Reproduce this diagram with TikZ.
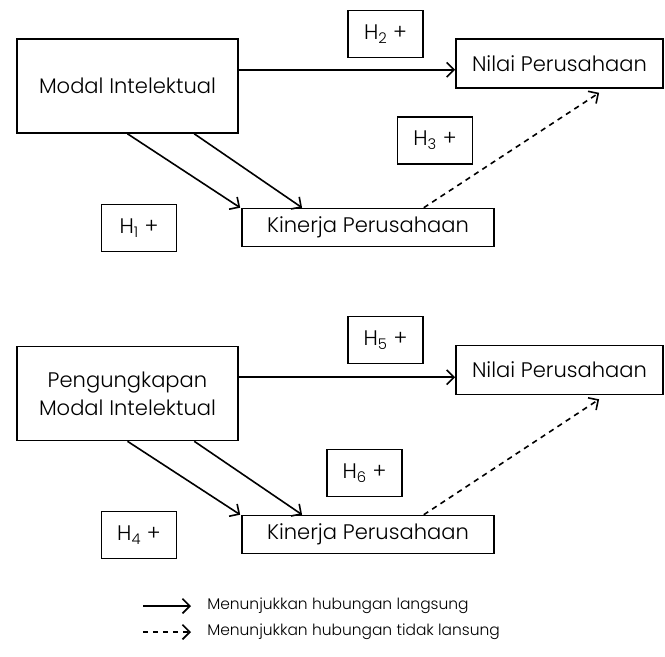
\documentclass[tikz,border=0pt]{standalone}
\usepackage{fontspec}
\setmainfont{Poppins Light}
\usetikzlibrary{arrows.meta}
\usetikzlibrary{calc}
\usetikzlibrary{positioning}

\begin{document}
\begin{tikzpicture}[x=0.75pt,y=-0.75pt]
	\useasboundingbox (0,0) rectangle (665,657);
	\begin{scope}[every node/.style={draw, line width=1.2pt, inner sep=0pt, align=center,
	              font=\fontsize{15.8}{21}\selectfont}]
		% blok atas
		\node[minimum width=165.75pt, minimum height=70.5pt] (m1) at (127.5,86) {Modal Intelektual};
		\node[minimum width=155.25pt, minimum height=36.75pt] (n1) at (559.5,63.5) {Nilai Perusahaan};
		\node[minimum width=189pt, minimum height=28.5pt] (k1) at (368,227.5) {Kinerja Perusahaan};
		\node[minimum width=56.25pt, minimum height=35.25pt] (h2) at (385.5,34) {H\textsubscript{2} +};
		\node[minimum width=56.25pt, minimum height=35.25pt] (h3) at (435,140.5) {H\textsubscript{3} +};
		\node[minimum width=56.25pt, minimum height=35.25pt] (h1) at (139,228) {H\textsubscript{1} +};
		% blok bawah
		\node[minimum width=165.75pt, minimum height=70.5pt] (m2) at (127.5,393.5) {Pengungkapan\\Modal Intelektual};
		\node[minimum width=155.25pt, minimum height=36.75pt] (n2) at (559.5,370) {Nilai Perusahaan};
		\node[minimum width=189pt, minimum height=28.5pt] (k2) at (368,534.5) {Kinerja Perusahaan};
		\node[minimum width=56.25pt, minimum height=35.25pt] (h5) at (385.5,340) {H\textsubscript{5} +};
		\node[minimum width=56.25pt, minimum height=35.25pt] (h6) at (364.5,473) {H\textsubscript{6} +};
		\node[minimum width=56.25pt, minimum height=35.25pt] (h4) at (139,535) {H\textsubscript{4} +};
	\end{scope}

	\begin{scope}[>={Straight Barb[length=5.5pt,width=11pt,line width=1.2pt]},
	              every path/.style={line width=1.2pt},
	              putus/.style={dash pattern=on 4pt off 3.5pt}]
		\foreach \m/\n/\k in {m1/n1/k1, m2/n2/k2}
		{
			\draw[->] ($(\m.north east)!0.33!(\m.south east)$) -- (\n.west |- {$(\m.north east)!0.33!(\m.south east)$});
			\draw[->] (\m.south) -- ($(\k.north west)+(-1,0)$);
			\draw[->] ($(\m.south)!0.6!(\m.south east)$) -- ($(\k.north west)!0.24!(\k.north east)$);
			\draw[->, putus] ($(\k.north west)!0.72!(\k.north east)$) -- ($(\n.south west)!0.69!(\n.south east)+(0,4)$);
		}
	\end{scope}

	% keterangan
	\begin{scope}[every node/.style={anchor=west, inner sep=0pt, font=\fontsize{11.6}{14}\selectfont}]
		\node (ket1) at (207,606) {Menunjukkan hubungan langsung};
		\node (ket2) at (207,632) {Menunjukkan hubungan tidak lansung};
	\end{scope}
	\coordinate (a1) at (143,606);
	\coordinate (a2) at (143,632);
	\draw[line width=1.2pt, -{Straight Barb[length=5.5pt,width=11pt,line width=1.2pt]}] (a1) -- ([xshift=-12pt]ket1.west);
	\draw[line width=1.2pt, dash pattern=on 4pt off 3.5pt, -{Straight Barb[length=5.5pt,width=11pt,line width=1.2pt]}] (a2) -- ([xshift=-12pt]ket2.west);
\end{tikzpicture}
\end{document}
